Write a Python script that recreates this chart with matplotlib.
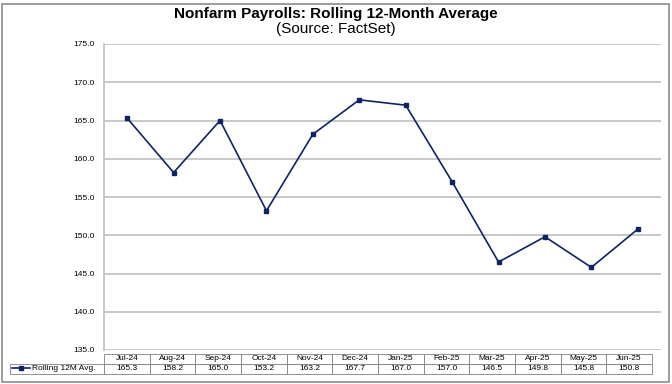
import matplotlib.pyplot as plt
from matplotlib.patches import Rectangle

plt.rcParams['font.family'] = ['Liberation Sans', 'DejaVu Sans']

months = ['Jul-24', 'Aug-24', 'Sep-24', 'Oct-24', 'Nov-24', 'Dec-24',
          'Jan-25', 'Feb-25', 'Mar-25', 'Apr-25', 'May-25', 'Jun-25']
rolling_avg = [165.3, 158.2, 165.0, 153.2, 163.2, 167.7,
               167.0, 157.0, 146.5, 149.8, 145.8, 150.8]
series_label = 'Rolling 12M Avg.'
yticks = [135, 140, 145, 150, 155, 160, 165, 170, 175]

W, H = 672, 384
navy = '#0F2464'
grid_grey = '#BFBFBF'

fig = plt.figure(figsize=(W / 100, H / 100), dpi=100)

# outer frame
fig.patches.append(Rectangle((2 / W, 2 / H), 667 / W, 378 / H, transform=fig.transFigure,
                             fill=False, edgecolor='#8C8C8C', linewidth=1.2))

fig.text(0.5, 1 - 14 / H, 'Nonfarm Payrolls: Rolling 12-Month Average',
         ha='center', va='center', fontsize=11, fontweight='bold')
fig.text(0.5, 1 - 29 / H, '(Source: FactSet)', ha='center', va='center', fontsize=11)

# plot area (pixels): left 104, right 661, top 44, bottom 350
left, right, top, bottom = 104, 661, 44, 350
ax = fig.add_axes([left / W, 1 - bottom / H, (right - left) / W, (bottom - top) / H])

x = list(range(len(months)))
line, = ax.plot(x, rolling_avg, color=navy, lw=1.2, marker='s', markersize=3.5,
                markerfacecolor=navy, markeredgecolor=navy, label=series_label)

ax.set_xlim(-0.5, len(months) - 0.5)
ax.set_ylim(yticks[0], yticks[-1])
ax.set_yticks(yticks)
ax.set_yticklabels([f'{v:.1f}' for v in yticks], fontsize=6)
ax.set_xticks([])
ax.yaxis.grid(True, color=grid_grey, lw=1.2)
ax.set_axisbelow(True)
ax.tick_params(axis='y', length=0, pad=7)
for s in ['top', 'right', 'bottom']:
    ax.spines[s].set_visible(False)
ax.spines['left'].set_color(grid_grey)
ax.spines['left'].set_linewidth(1.2)

# data table below the chart
tbl_left, tbl_right, tbl_top, tbl_bot = 10, 652, 354, 374
aw, ah = right - left, bottom - top
label_w = 104 - tbl_left
col_w = (tbl_right - 104) / len(months)
cells = [[''] + months, [''] + [f'{v:.1f}' for v in rolling_avg]]
tbl = ax.table(cellText=cells, cellLoc='center',
               colWidths=[label_w] + [col_w] * len(months),
               bbox=[(tbl_left - left) / aw, (bottom - tbl_bot) / ah,
                     (tbl_right - tbl_left) / aw, (tbl_bot - tbl_top) / ah])
tbl.auto_set_font_size(False)
tbl.set_fontsize(6)
for (r, c), cell in tbl.get_celld().items():
    cell.set_edgecolor('#7F7F7F')
    cell.set_linewidth(0.6)
    cell.PAD = 0.02
    if r == 0 and c == 0:
        cell.visible_edges = ''

# legend key inside the table's label cell
ax.legend(handles=[line], loc='center left', frameon=False, fontsize=6,
          bbox_to_anchor=((tbl_left - left) / aw, (bottom - (tbl_bot - 5.5)) / ah),
          handlelength=2.2, handletextpad=0.3, borderpad=0, borderaxespad=0.2)

fig.savefig('out.png', dpi=100)
